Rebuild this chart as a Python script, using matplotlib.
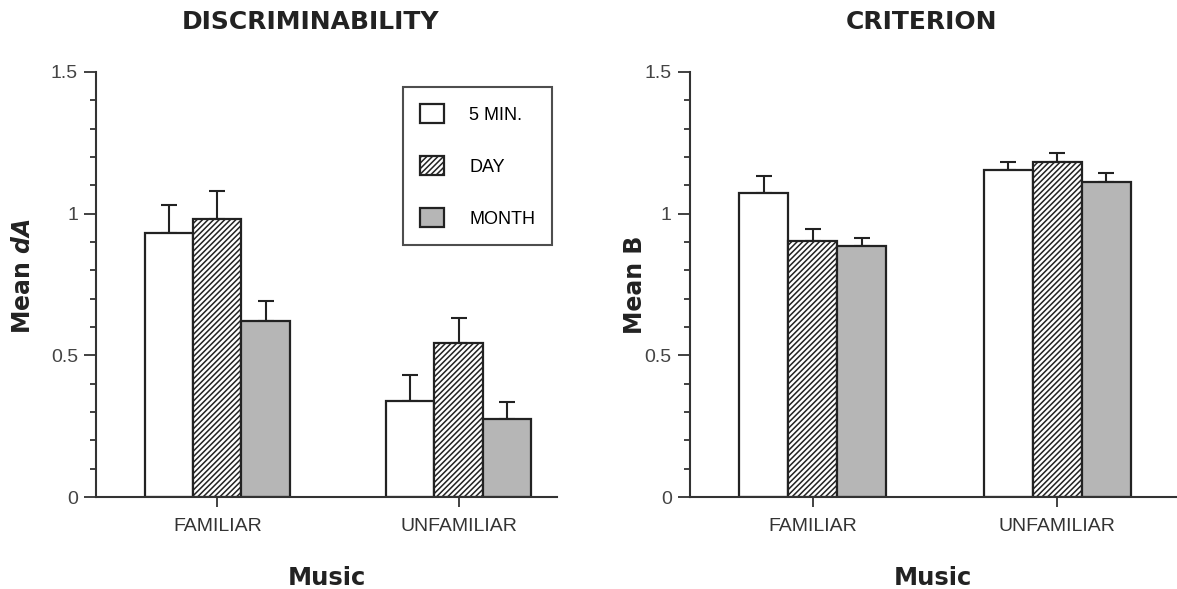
import matplotlib.pyplot as plt
import numpy as np
from matplotlib.ticker import MultipleLocator

plt.rcParams['font.family'] = ['Liberation Sans', 'DejaVu Sans']
plt.rcParams['hatch.linewidth'] = 1.1
plt.rcParams['mathtext.fontset'] = 'custom'
plt.rcParams['mathtext.bfit'] = 'DejaVu Sans:bold:italic'

# data
groups = ['FAMILIAR', 'UNFAMILIAR']
delays = ['5 MIN.', 'DAY', 'MONTH']

# discriminability (mean dA) and upper error bar lengths
da_means = [[0.93, 0.34],   # 5 MIN.
            [0.98, 0.545],  # DAY
            [0.62, 0.275]]  # MONTH
da_err = [[0.10, 0.09],
          [0.10, 0.088],
          [0.073, 0.06]]

# criterion (mean B)
b_means = [[1.073, 1.154],
           [0.903, 1.183],
           [0.887, 1.113]]
b_err = [[0.06, 0.029],
         [0.041, 0.032],
         [0.027, 0.032]]

fills = ['white', 'white', '#b6b6b6']
hatches = [None, '//////', None]

fig = plt.figure(figsize=(11.77, 5.89), dpi=100)
ax1 = fig.add_axes([0.0816, 0.156, 0.392, 0.722])
ax2 = fig.add_axes([0.586, 0.156, 0.414, 0.722])

width = 0.2
x = np.arange(len(groups))
bold = dict(family='DejaVu Sans', fontweight='bold', color='#222222')


def draw_panel(ax, means, errs, title, ylabel, xmax, title_x):
    for i, name in enumerate(delays):
        pos = x + (i - 1) * width
        ax.bar(pos, means[i], width, color=fills[i], hatch=hatches[i],
               edgecolor='#222222', linewidth=1.6, label=name, zorder=2)
        ax.errorbar(pos, means[i], yerr=[np.zeros(len(groups)), errs[i]],
                    fmt='none', ecolor='#222222', elinewidth=1.5,
                    capsize=5.5, capthick=1.5, zorder=1)
    ax.set_xlim(-0.503, xmax)
    ax.set_ylim(0, 1.5)
    ax.set_xticks(x)
    ax.set_xticklabels(groups, fontsize=14, color='#333333')
    ax.set_yticks([0, 0.5, 1, 1.5])
    ax.set_yticklabels(['0', '0.5', '1', '1.5'], fontsize=14, color='#444444')
    ax.yaxis.set_minor_locator(MultipleLocator(0.1))
    ax.tick_params(axis='y', which='major', length=9, width=1.3, pad=4, color='#333333')
    ax.tick_params(axis='y', which='minor', length=4, width=1.3, color='#333333')
    ax.tick_params(axis='x', length=7, width=1.3, pad=8, color='#333333')
    for s in ['top', 'right']:
        ax.spines[s].set_visible(False)
    for s in ['left', 'bottom']:
        ax.spines[s].set_linewidth(1.5)
        ax.spines[s].set_color('#333333')
    ax.set_xlabel('Music', fontsize=17.5, va='center', **bold)
    ax.xaxis.set_label_coords(0.5, -0.19)
    ax.set_ylabel(ylabel, fontsize=17, va='center', **bold)
    fig.text(title_x, 0.962, title, fontsize=18, ha='center', va='center', **bold)


draw_panel(ax1, da_means, da_err, 'DISCRIMINABILITY', r'Mean $\mathbfit{dA}$', 1.41, 0.264)
draw_panel(ax2, b_means, b_err, 'CRITERION', 'Mean B', 1.49, 0.783)
ax1.yaxis.set_label_coords(-0.158, 0.52)
ax2.yaxis.set_label_coords(-0.113, 0.50)

leg = ax1.legend(loc='upper left', bbox_to_anchor=(0.666, 0.965), borderaxespad=0,
                 fontsize=13, frameon=True, fancybox=False, edgecolor='#222222',
                 handlelength=1.3, handleheight=1.25, handletextpad=1.4,
                 labelspacing=1.8, borderpad=0.95)
leg.get_frame().set_linewidth(1.5)

fig.savefig('out.png', dpi=100)
